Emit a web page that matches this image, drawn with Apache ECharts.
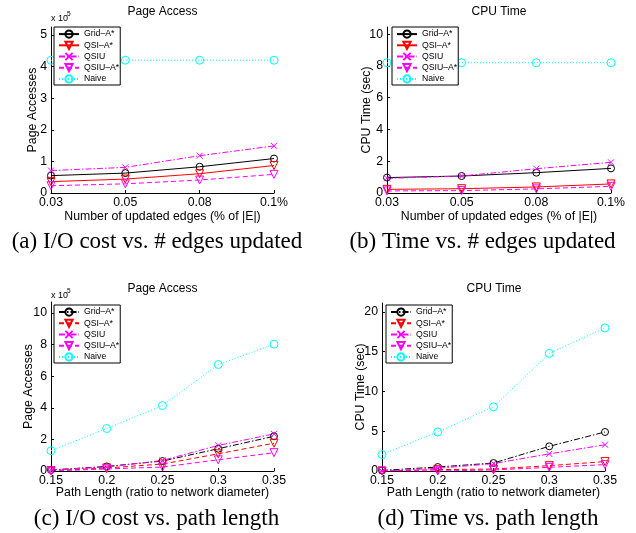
<!DOCTYPE html>
<html>
<head>
<meta charset="utf-8">
<script src="https://cdn.jsdelivr.net/npm/echarts@6/dist/echarts.min.js"></script>
<style>
html,body{margin:0;padding:0;background:#fff;}
#chart{width:636px;height:533px;}
</style>
</head>
<body>
<div id="chart"></div>
<script>
// ---- data ----
const editCats = ['0.03', '0.05', '0.08', '0.1%'];
const pathCats = ['0.15', '0.2', '0.25', '0.3', '0.35'];
const seriesNames = ['Grid–A*', 'QSI–A*', 'QSIU', 'QSIU–A*', 'Naive'];

// (a) Page accesses (x 10^5) vs # edges updated
const aGrid  = [0.55, 0.63, 0.83, 1.09];
const aQSIA  = [0.36, 0.44, 0.61, 0.87];
const aQSIU  = [0.71, 0.81, 1.18, 1.49];
const aQSIUA = [0.23, 0.29, 0.41, 0.59];
const aNaive = [4.2, 4.2, 4.2, 4.2];

// (b) CPU time (sec) vs # edges updated
const bGrid  = [0.97, 1.07, 1.28, 1.55];
const bQSIA  = [0.23, 0.27, 0.38, 0.57];
const bQSIU  = [0.92, 1.07, 1.53, 1.93];
const bQSIUA = [0.13, 0.15, 0.26, 0.42];
const bNaive = [8.2, 8.2, 8.2, 8.2];

// (c) Page accesses (x 10^5) vs path length
const cGrid  = [0.06, 0.29, 0.63, 1.41, 2.2];
const cQSIA  = [0.02, 0.19, 0.44, 1.09, 1.76];
const cQSIU  = [0.08, 0.25, 0.67, 1.62, 2.35];
const cQSIUA = [0.0, 0.13, 0.25, 0.71, 1.16];
const cNaive = [1.28, 2.69, 4.14, 6.74, 8.03];

// (d) CPU time (sec) vs path length
const dGrid  = [0.08, 0.5, 1.0, 3.1, 4.9];
const dQSIA  = [0.0, 0.17, 0.25, 0.67, 1.18];
const dQSIU  = [0.0, 0.34, 0.93, 2.15, 3.3];
const dQSIUA = [0.0, 0.0, 0.13, 0.46, 0.8];
const dNaive = [2.07, 4.9, 8.06, 14.77, 17.97];

// tick labels
const aTicks = [0, 1, 2, 3, 4, 5];
const bTicks = [0, 2, 4, 6, 8, 10];
const cTicks = [0, 2, 4, 6, 8, 10];
const dTicks = [0, 5, 10, 15, 20];

// ---- styling ----
const FONT = '"Liberation Sans", Arial, Helvetica, sans-serif';
const SERIF = '"Liberation Serif", "Times New Roman", serif';
const FS = 12.3;
const CIRCLE = 'circle';
const TRI = 'path://M0,0L10,0L5,9Z';
const CROSS = 'path://M0,0L10,10M0,10L10,0';
const SOLID = 'solid', DASH = [5, 3], DASHDOT = [6, 2, 1.5, 2], DOT = [1, 2];

const chart = echarts.init(document.getElementById('chart'), null, {renderer: 'canvas'});

function mk(prefix, idx, data, color, ltype, symbol, size, gi) {
  return {
    type: 'line',
    name: prefix + ':' + seriesNames[idx],
    xAxisIndex: gi, yAxisIndex: gi,
    data: data,
    symbol: symbol,
    symbolSize: size,
    showAllSymbol: true,
    lineStyle: {color: color, width: 1, type: ltype},
    itemStyle: {color: 'rgba(255,255,255,0)', borderColor: color, borderWidth: 1},
    emphasis: {disabled: true},
    z: 2
  };
}

function panelSeries(prefix, gi, d, styles) {
  return [
    mk(prefix, 0, d[0], '#000000', styles[0], CIRCLE, 7, gi),
    mk(prefix, 1, d[1], '#ff0000', styles[1], TRI, 8, gi),
    mk(prefix, 2, d[2], '#ff00ff', styles[2], CROSS, 6, gi),
    mk(prefix, 3, d[3], '#ff00ff', styles[3], TRI, 8, gi),
    mk(prefix, 4, d[4], '#00ffff', styles[4], CIRCLE, 8, gi)
  ];
}

const grids = [
  {left: 51, top: 27, width: 223, height: 166},
  {left: 387, top: 27, width: 224, height: 166},
  {left: 51, top: 302, width: 223, height: 169},
  {left: 382, top: 303, width: 223, height: 168}
];

function xAx(gi, cats, name, gap) {
  return {
    type: 'category', gridIndex: gi, data: cats, boundaryGap: false,
    name: name, nameLocation: 'middle', nameGap: gap, nameMoveOverlap: false,
    nameTextStyle: {fontFamily: FONT, fontSize: FS, color: '#000'},
    axisLine: {lineStyle: {color: '#000', width: 1}},
    axisTick: {inside: true, length: 3, alignWithLabel: true, lineStyle: {color: '#000'}},
    axisLabel: {fontFamily: FONT, fontSize: FS, color: '#000', margin: 4},
    splitLine: {show: false}
  };
}
function yAx(gi, max, ticks, name, gap) {
  return {
    type: 'value', gridIndex: gi, min: 0, max: max,
    name: name, nameLocation: 'middle', nameGap: gap, nameMoveOverlap: false,
    nameTextStyle: {fontFamily: FONT, fontSize: FS, color: '#000'},
    axisLine: {show: true, lineStyle: {color: '#000', width: 1}},
    axisTick: {show: true, inside: true, length: 3, customValues: ticks, lineStyle: {color: '#000'}},
    axisLabel: {fontFamily: FONT, fontSize: FS, color: '#000', margin: 4, customValues: ticks},
    splitLine: {show: false}
  };
}

function lg(prefix, left, top) {
  return {
    show: true, orient: 'vertical', left: left, top: top, z: 10,
    data: seriesNames.map(n => prefix + ':' + n),
    formatter: n => n.split(':')[1],
    itemWidth: 20, itemHeight: 9, itemGap: 0,
    padding: [1.5, 1, 0.5, 4],
    itemStyle: {color: 'rgba(255,255,255,0)'},
    backgroundColor: '#ffffff', borderColor: '#000000', borderWidth: 1, borderRadius: 0,
    textStyle: {fontFamily: FONT, fontSize: 8.7, color: '#000', lineHeight: 11.2},
    selectedMode: false, inactiveColor: '#000'
  };
}

function txt(x, y, s, font, size, align, va) {
  return {
    type: 'text', x: x, y: y, silent: true, z: 20,
    style: {text: s, fontFamily: font, fontSize: size, fill: '#000',
            align: align || 'center', verticalAlign: va || 'middle',
            textAlign: align || 'center', textVerticalAlign: va || 'middle'}
  };
}

const option = {
  animation: false,
  backgroundColor: '#ffffff',
  grid: grids,
  xAxis: [
    xAx(0, editCats, 'Number of updated edges (% of |E|)', 18),
    xAx(1, editCats, 'Number of updated edges (% of |E|)', 18),
    xAx(2, pathCats, 'Path Length (ratio to network diameter)', 16),
    xAx(3, pathCats, 'Path Length (ratio to network diameter)', 16)
  ],
  yAxis: [
    yAx(0, 5.25, aTicks, 'Page Accesses', 12),
    yAx(1, 10.45, bTicks, 'CPU Time (sec)', 14),
    yAx(2, 10.7, cTicks, 'Page Accesses', 16),
    yAx(3, 21.1, dTicks, 'CPU Time (sec)', 15)
  ],
  legend: [lg('a', 54, 27), lg('b', 392, 27), lg('c', 54, 305), lg('d', 386, 305)],
  series: [].concat(
    panelSeries('a', 0, [aGrid, aQSIA, aQSIU, aQSIUA, aNaive], [SOLID, SOLID, DASHDOT, DASH, DOT]),
    panelSeries('b', 1, [bGrid, bQSIA, bQSIU, bQSIUA, bNaive], [SOLID, SOLID, DASHDOT, DASH, DOT]),
    panelSeries('c', 2, [cGrid, cQSIA, cQSIU, cQSIUA, cNaive], [DASHDOT, DASH, DASHDOT, DASH, DOT]),
    panelSeries('d', 3, [dGrid, dQSIA, dQSIU, dQSIUA, dNaive], [DASHDOT, DASH, DASHDOT, DASH, DOT])
  ),
  graphic: [
    txt(162.5, 12, 'Page Access', FONT, 12),
    txt(499, 12, 'CPU Time', FONT, 12),
    txt(162.5, 289, 'Page Access', FONT, 12),
    txt(494, 289, 'CPU Time', FONT, 12),
    txt(51, 19, 'x 10', FONT, 9, 'left'),
    txt(67, 14, '5', FONT, 6.5, 'left'),
    txt(51, 296, 'x 10', FONT, 9, 'left'),
    txt(67, 291, '5', FONT, 6.5, 'left'),
    txt(157, 242, '(a) I/O cost vs. # edges updated', SERIF, 23),
    txt(482.5, 242, '(b) Time vs. # edges updated', SERIF, 23),
    txt(156.5, 519, '(c) I/O cost vs. path length', SERIF, 23),
    txt(488, 519, '(d) Time vs. path length', SERIF, 23)
  ]
};
chart.setOption(option);
</script>
</body>
</html>
